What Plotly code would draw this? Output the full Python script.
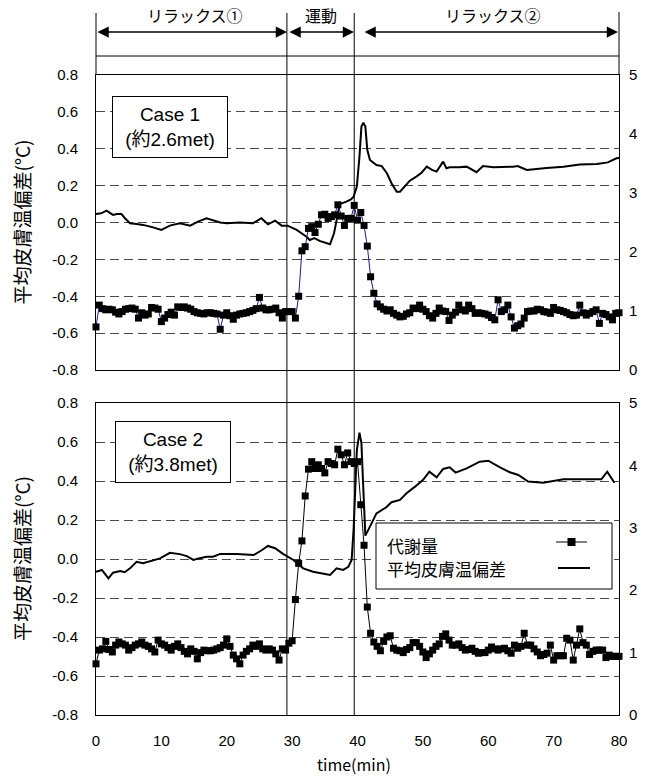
import plotly.graph_objects as go

W, H = 645, 776

# ---------------- data ----------------
TIME = [i * 0.5 for i in range(161)]  # sampling times (min), 0.5-min step

MET1 = [
    0.73, 1.10, 1.04, 1.02, 1.03, 1.02, 0.98, 0.95, 0.99, 1.03,
    1.04, 1.05, 1.03, 0.88, 0.97, 0.93, 0.95, 1.06, 1.05, 1.03,
    0.82, 0.88, 0.94, 0.98, 0.93, 1.07, 1.06, 1.07, 1.05, 1.03,
    0.99, 0.97, 0.96, 0.95, 0.97, 0.97, 0.96, 0.95, 0.69, 0.93,
    0.97, 0.92, 0.86, 0.93, 0.95, 0.96, 0.97, 0.99, 1.01, 1.04,
    1.23, 1.05, 1.02, 1.02, 1.03, 1.05, 0.97, 0.88, 0.99, 0.99,
    0.99, 0.88, 1.25, 2.02, 2.09, 2.40, 2.43, 2.33, 2.47, 2.63,
    2.64, 2.57, 2.60, 2.63, 2.80, 2.61, 2.45, 2.57, 2.57, 2.79,
    2.54, 2.67, 2.45, 2.10, 1.58, 1.30, 1.12, 1.07, 1.03, 1.00,
    1.02, 0.96, 0.93, 0.90, 0.91, 0.95, 0.97, 1.05, 1.04, 1.10,
    1.03, 0.99, 0.92, 0.88, 0.96, 1.05, 1.00, 0.99, 0.84, 0.93,
    0.98, 1.10, 1.02, 1.00, 1.10, 1.04, 0.96, 0.97, 0.96, 0.95,
    0.93, 0.89, 0.85, 1.19, 0.99, 1.02, 1.10, 0.90, 0.71, 0.75,
    0.78, 0.88, 0.99, 1.00, 1.00, 1.03, 1.02, 0.99, 0.98, 0.96,
    1.06, 1.02, 1.01, 0.99, 0.97, 0.94, 0.92, 0.93, 1.10, 0.97,
    0.93, 0.96, 0.99, 1.02, 0.79, 0.96, 0.94, 0.90, 0.85, 0.96,
    0.97,
]

MET2 = [
    0.82, 1.04, 1.06, 1.18, 1.05, 1.01, 1.12, 1.17, 1.14, 1.12,
    1.04, 1.08, 1.12, 1.14, 1.17, 1.12, 1.10, 1.06, 1.01, 1.20,
    1.14, 1.12, 1.08, 1.04, 1.10, 1.14, 1.08, 1.02, 0.98, 1.06,
    1.02, 0.90, 1.00, 1.04, 1.03, 1.03, 1.04, 1.06, 1.08, 1.12,
    1.22, 1.10, 0.96, 0.90, 0.82, 0.96, 1.02, 1.06, 1.12, 1.10,
    1.14, 1.06, 1.04, 1.06, 1.04, 0.98, 0.88, 1.06, 1.04, 1.15,
    1.19, 1.85, 2.43, 2.79, 3.51, 3.94, 4.06, 3.95, 4.01, 3.95,
    3.88, 4.06, 4.03, 4.01, 4.26, 4.17, 4.01, 4.20, 4.06, 4.03,
    4.06, 3.37, 2.72, 1.73, 1.31, 1.17, 1.10, 1.03, 1.18, 1.25,
    1.27, 1.07, 1.04, 1.03, 1.00, 1.05, 1.08, 1.16, 1.16, 1.10,
    1.01, 0.92, 0.98, 1.04, 1.10, 1.14, 1.26, 1.30, 1.20, 1.12,
    1.12, 1.14, 1.08, 1.04, 1.05, 1.07, 1.02, 0.99, 1.00, 1.00,
    1.04, 1.09, 1.06, 1.04, 1.06, 1.07, 1.03, 0.99, 1.12, 1.07,
    1.10, 1.31, 1.12, 1.12, 1.06, 1.01, 0.95, 0.97, 0.99, 1.12,
    0.88, 0.95, 0.95, 0.95, 1.23, 1.20, 0.88, 1.12, 1.38, 1.16,
    1.12, 0.97, 1.02, 1.04, 1.04, 1.04, 0.92, 0.96, 0.94, 0.94,
    0.94,
]

T1_TIME = [0, 0.8, 1.6, 2.6, 3.2, 3.9, 4.5, 5.2, 6.2, 7.2, 8.6, 10.0, 11.3, 12.8,
           14.4, 15.6, 16.9, 17.9, 19.0, 20.0, 22.0, 24.0, 25.3, 26.3, 27.4, 28.4,
           29.3, 30.7, 32.2, 32.7, 33.4, 34.2, 35.2, 35.8, 36.4, 36.8, 37.3, 38.3,
           39.0, 39.4, 39.9, 40.3, 40.6, 40.9, 41.2, 41.5, 41.9, 42.9, 43.7, 44.5,
           45.2, 46.0, 46.5, 47.2, 48.0, 49.0, 49.8, 50.6, 51.4, 52.1, 53.1, 53.6,
           54.1, 55.5, 56.7, 58.2, 59.2, 60.8, 62.5, 63.8, 64.5, 65.9, 68.9, 71.5,
           74.0, 76.6, 78.3, 79.6, 80.0]
T1_TEMP = [0.046, 0.050, 0.064, 0.041, 0.046, 0.046, 0.020, -0.004, -0.008, -0.013,
           -0.025, -0.040, -0.017, -0.004, -0.017, 0.005, 0.023, 0.010, 0.000, -0.004,
           0.000, -0.004, 0.023, -0.010, 0.010, -0.017, -0.017, -0.040, -0.077, -0.095,
           -0.085, -0.100, -0.113, -0.118, -0.060, 0.020, 0.100, 0.113, 0.125, 0.140,
           0.195, 0.357, 0.520, 0.541, 0.520, 0.393, 0.339, 0.312, 0.306, 0.267,
           0.213, 0.167, 0.167, 0.195, 0.227, 0.249, 0.270, 0.303, 0.285, 0.276,
           0.330, 0.294, 0.300, 0.300, 0.303, 0.273, 0.306, 0.300, 0.300, 0.303,
           0.306, 0.285, 0.296, 0.303, 0.314, 0.317, 0.326, 0.348, 0.350]

T2_TIME = [0, 0.9, 1.9, 2.6, 3.7, 4.4, 5.2, 6.2, 7.2, 8.5, 9.8, 11.3, 12.8, 13.9,
           14.9, 15.7, 16.9, 17.9, 19.0, 21.5, 24.1, 25.4, 26.3, 27.4, 28.6, 30.2,
           31.7, 33.2, 35.8, 36.8, 37.8, 38.6, 39.1, 39.4, 39.9, 40.3, 40.6, 40.9,
           41.2, 41.9, 42.9, 44.4, 45.2, 46.5, 47.5, 48.8, 50.0, 51.0, 52.1, 53.1,
           54.1, 55.0, 56.7, 58.7, 60.0, 61.8, 63.3, 64.6, 66.1, 68.4, 71.5, 74.0,
           77.3, 78.2, 79.3]
T2_TEMP = [-0.065, -0.056, -0.099, -0.070, -0.062, -0.068, -0.048, -0.014, -0.022,
           -0.009, 0.003, 0.032, 0.025, 0.015, -0.005, 0.003, 0.012, 0.012, 0.026,
           0.026, 0.020, 0.046, 0.067, 0.055, 0.026, -0.005, -0.048, -0.065, -0.082,
           -0.048, -0.056, -0.040, -0.005, 0.149, 0.559, 0.648, 0.594, 0.354, 0.120,
           0.166, 0.234, 0.265, 0.291, 0.303, 0.337, 0.371, 0.405, 0.448, 0.419,
           0.462, 0.470, 0.443, 0.465, 0.499, 0.504, 0.470, 0.445, 0.431, 0.397,
           0.391, 0.409, 0.409, 0.409, 0.448, 0.391]

LEFT_TICKS = [-0.8, -0.6, -0.4, -0.2, 0.0, 0.2, 0.4, 0.6, 0.8]
LEFT_LABELS = ["-0.8", "-0.6", "-0.4", "-0.2", "0.0", "0.2", "0.4", "0.6", "0.8"]
RIGHT_TICKS = [0, 1, 2, 3, 4, 5]
RIGHT_LABELS = ["0", "1", "2", "3", "4", "5"]
X_TICKS = [0, 10, 20, 30, 40, 50, 60, 70, 80]

PHASE_LINES = [29.2, 39.5]
PHASE_LABELS = ["リラックス①", "運動", "リラックス②"]
CASE_LABELS = ["Case 1<br>(約2.6met)", "Case 2<br>(約3.8met)"]
LEGEND_LABELS = ["代謝量", "平均皮膚温偏差"]
Y_TITLE = "平均皮膚温偏差(°C)"
X_TITLE = "time(min)"

# ---------------- layout helpers ----------------
def X(px):
    return px / W

def Y(py):
    return 1 - py / H

FL, FR = 96, 619          # frame left/right (px)
P1T, P1B = 75, 370        # top panel top/bottom
P2T, P2B = 403, 715       # bottom panel top/bottom

NUM_FONT = dict(family="Liberation Sans, Arial, sans-serif", size=15, color="black")
JP_FONT = "Noto Sans CJK JP, sans-serif"

fig = go.Figure()

fig.add_trace(go.Scatter(x=TIME, y=MET1, xaxis="x", yaxis="y2", mode="lines+markers",
                         line=dict(color="#1c1c8c", width=1),
                         marker=dict(symbol="square", size=7, color="black"),
                         cliponaxis=False, showlegend=False))
fig.add_trace(go.Scatter(x=T1_TIME, y=T1_TEMP, xaxis="x", yaxis="y", mode="lines",
                         line=dict(color="black", width=2), showlegend=False))
fig.add_trace(go.Scatter(x=TIME, y=MET2, xaxis="x2", yaxis="y4", mode="lines+markers",
                         line=dict(color="black", width=1),
                         marker=dict(symbol="square", size=7, color="black"),
                         cliponaxis=False, showlegend=False))
fig.add_trace(go.Scatter(x=T2_TIME, y=T2_TEMP, xaxis="x2", yaxis="y3", mode="lines",
                         line=dict(color="black", width=2), showlegend=False))

xdom = [X(FL), X(FR)]
ydom1 = [Y(P1B), Y(P1T)]
ydom2 = [Y(P2B), Y(P2T)]

common_x = dict(domain=xdom, range=[0, 80], showline=True, mirror=True, linecolor="black",
                linewidth=1, showgrid=False, zeroline=False, ticks="", automargin=False)
left_y = dict(range=[-0.8, 0.8], tickvals=LEFT_TICKS, ticktext=LEFT_LABELS,
              showline=True, mirror=True, linecolor="black", linewidth=1,
              showgrid=True, gridcolor="#4a4a4a", gridwidth=1.2, griddash="9px,5px",
              zeroline=False, ticks="", tickfont=NUM_FONT, ticklabelstandoff=14,
              automargin=False)
right_y = dict(range=[0, 5], tickvals=RIGHT_TICKS, ticktext=RIGHT_LABELS, side="right",
               showline=False, showgrid=False, zeroline=False, ticks="",
               tickfont=NUM_FONT, ticklabelstandoff=9, automargin=False)

fig.update_layout(
    width=W, height=H, margin=dict(l=0, r=0, t=0, b=0, autoexpand=False),
    paper_bgcolor="white", plot_bgcolor="white", showlegend=False,
    xaxis=dict(common_x, anchor="y", showticklabels=False),
    yaxis=dict(left_y, domain=ydom1, anchor="x"),
    yaxis2=dict(right_y, overlaying="y", anchor="x"),
    xaxis2=dict(common_x, anchor="y3", tickvals=X_TICKS, tickfont=NUM_FONT,
                ticklabelstandoff=12),
    yaxis3=dict(left_y, domain=ydom2, anchor="x2"),
    yaxis4=dict(right_y, overlaying="y3", anchor="x2"),
)

shapes = []
# phase boundaries through header and both panels
for t in PHASE_LINES:
    shapes.append(dict(type="line", xref="x", yref="paper", x0=t, x1=t,
                       y0=Y(P2B), y1=Y(13), line=dict(color="black", width=1), layer="above"))
# header frame
shapes.append(dict(type="line", xref="paper", yref="paper", x0=X(FL), x1=X(FL),
                   y0=Y(P1T), y1=Y(13), line=dict(color="black", width=1)))
shapes.append(dict(type="line", xref="paper", yref="paper", x0=X(FR), x1=X(FR),
                   y0=Y(P1T), y1=Y(12), line=dict(color="black", width=1)))
shapes.append(dict(type="line", xref="paper", yref="paper", x0=X(FL), x1=X(FR),
                   y0=Y(56), y1=Y(56), line=dict(color="black", width=1)))
# legend box
LX0, LX1, LY0, LY1 = 376, 612, 523, 589
shapes.append(dict(type="rect", xref="paper", yref="paper", x0=X(LX0), x1=X(LX1),
                   y0=Y(LY1), y1=Y(LY0), fillcolor="white",
                   line=dict(color="black", width=1), layer="above"))
shapes.append(dict(type="line", xref="paper", yref="paper", x0=X(556), x1=X(587),
                   y0=Y(542), y1=Y(542), line=dict(color="black", width=1), layer="above"))
shapes.append(dict(type="rect", xref="paper", yref="paper", x0=X(567.5), x1=X(575.5),
                   y0=Y(546), y1=Y(538), fillcolor="black",
                   line=dict(color="black", width=0), layer="above"))
shapes.append(dict(type="line", xref="paper", yref="paper", x0=X(558), x1=X(590),
                   y0=Y(568), y1=Y(568), line=dict(color="black", width=2), layer="above"))
fig.update_layout(shapes=shapes)

ann = []
# double-headed arrows in the header
for (a, b) in [(96, 287), (288, 354), (363, 618)]:
    ann.append(dict(xref="paper", yref="paper", x=X(b), y=Y(32), ax=a - b, ay=0,
                    axref="pixel", ayref="pixel", text="", showarrow=True,
                    arrowhead=2, startarrowhead=2, arrowside="end+start",
                    arrowwidth=1.5, arrowsize=1.5, startarrowsize=1.5,
                    arrowcolor="black", standoff=0, startstandoff=0))
for lab, cx in zip(PHASE_LABELS, [195, 321, 493]):
    ann.append(dict(xref="paper", yref="paper", x=X(cx), y=Y(15), text=lab,
                    showarrow=False, xanchor="center", yanchor="middle",
                    font=dict(family=JP_FONT, size=16, color="black")))
# case boxes
for lab, (cx, cy) in zip(CASE_LABELS, [(170, 127), (173, 452)]):
    ann.append(dict(xref="paper", yref="paper", x=X(cx), y=Y(cy), text=lab,
                    showarrow=False, xanchor="center", yanchor="middle",
                    width=112, height=58, align="center", valign="middle",
                    bgcolor="white", bordercolor="black", borderwidth=1, borderpad=1,
                    font=dict(family="Liberation Sans, Noto Sans CJK JP, sans-serif",
                              size=19, color="black")))
# legend texts
for lab, cy in zip(LEGEND_LABELS, [545, 568]):
    ann.append(dict(xref="paper", yref="paper", x=X(385), y=Y(cy), text=lab,
                    showarrow=False, xanchor="left", yanchor="middle",
                    font=dict(family=JP_FONT, size=17, color="black")))
# axis titles
for cy in [(P1T + P1B) / 2, (P2T + P2B) / 2]:
    ann.append(dict(xref="paper", yref="paper", x=X(21), y=Y(cy), text=Y_TITLE,
                    textangle=-90, showarrow=False, xanchor="center", yanchor="middle",
                    font=dict(family=JP_FONT, size=19, color="black")))
ann.append(dict(xref="paper", yref="paper", x=X(354), y=Y(764), text=X_TITLE,
                showarrow=False, xanchor="center", yanchor="middle",
                font=dict(family=JP_FONT, size=16, color="black")))
fig.update_layout(annotations=ann)

fig.write_html("out.html",
               config={"displayModeBar": False},
               post_script="document.body.style.margin='0px';"
                           "document.body.style.overflow='hidden';")
